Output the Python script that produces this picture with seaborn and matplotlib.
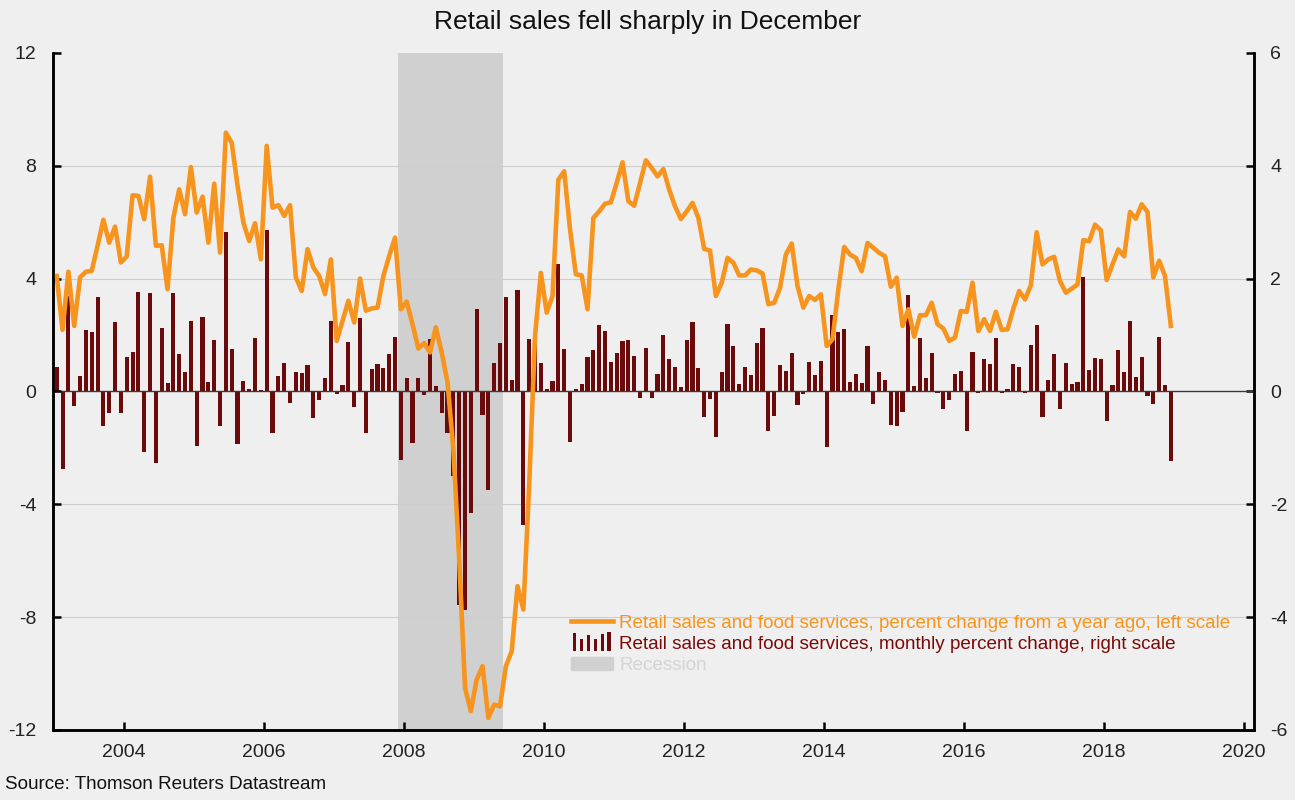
import numpy as np
import pandas as pd
import matplotlib as mpl
import matplotlib.pyplot as plt
from matplotlib.patches import Rectangle
from matplotlib.lines import Line2D
from matplotlib.legend_handler import HandlerBase
import seaborn as sns

plt.rcParams['font.family'] = ['Liberation Sans', 'DejaVu Sans']
mpl.rcParams['axes.unicode_minus'] = False

# monthly data, Jan 2003 .. Dec 2018
START_YEAR = 2003
RECESSION = (2007.917, 2009.417)

# percent change from a year ago (left scale)
yoy = [
    4.09, 2.18, 4.24, 2.32, 4.04, 4.24, 4.27, 5.16, 6.08, 5.27, 5.84, 4.57,
    4.78, 6.95, 6.93, 6.10, 7.61, 5.16, 5.18, 3.62, 6.16, 7.16, 6.28, 7.95,
    6.34, 6.90, 5.27, 7.36, 4.92, 9.17, 8.81, 7.30, 5.98, 5.33, 5.96, 4.68,
    8.70, 6.51, 6.60, 6.22, 6.60, 4.04, 3.56, 5.04, 4.39, 4.09, 3.45, 4.68,
    1.79, 2.50, 3.21, 2.44, 4.00, 2.86, 2.94, 2.97, 4.09, 4.80, 5.45, 2.91,
    3.18, 2.38, 1.52, 1.71, 1.38, 2.27, 1.38, 0.32, -2.06, -5.96, -10.51, -11.33,
    -10.21, -9.74, -11.57, -11.10, -11.16, -9.74, -9.21, -6.90, -7.73, -3.30, 1.97, 4.20,
    2.79, 3.38, 7.50, 7.80, 5.74, 4.15, 4.11, 2.91, 6.15, 6.38, 6.65, 6.70,
    7.39, 8.12, 6.74, 6.58, 7.39, 8.19, 7.92, 7.62, 7.88, 7.15, 6.56, 6.11,
    6.38, 6.68, 6.15, 5.05, 4.99, 3.38, 3.85, 4.73, 4.56, 4.11, 4.11, 4.32,
    4.29, 4.18, 3.09, 3.14, 3.67, 4.85, 5.24, 3.73, 2.97, 3.38, 3.24, 3.44,
    1.61, 1.85, 3.62, 5.12, 4.85, 4.73, 4.26, 5.26, 5.09, 4.91, 4.79, 3.71,
    4.03, 2.32, 2.91, 1.94, 2.70, 2.70, 3.14, 2.38, 2.23, 1.79, 1.91, 2.85,
    2.82, 3.85, 2.14, 2.56, 2.14, 2.82, 2.18, 2.20, 2.93, 3.56, 3.26, 3.76,
    5.64, 4.50, 4.68, 4.77, 3.91, 3.50, 3.64, 3.79, 5.36, 5.32, 5.91, 5.71,
    3.95, 4.50, 5.03, 4.79, 6.36, 6.12, 6.63, 6.36, 4.04, 4.63, 4.09, 2.32,
]

# monthly percent change (right scale)
mom = [
    0.44, -1.37, 1.69, -0.25, 0.27, 1.09, 1.05, 1.67, -0.61, -0.38, 1.23, -0.38,
    0.61, 0.70, 1.77, -1.08, 1.74, -1.26, 1.13, 0.14, 1.75, 0.67, 0.34, 1.24,
    -0.96, 1.31, 0.16, 0.91, -0.62, 2.83, 0.75, -0.93, 0.19, 0.04, 0.94, 0.03,
    2.86, -0.74, 0.27, 0.50, -0.20, 0.34, 0.32, 0.46, -0.48, -0.15, 0.24, 1.24,
    -0.04, 0.11, 0.87, -0.27, 1.30, -0.74, 0.40, 0.48, 0.41, 0.66, 0.96, -1.21,
    0.24, -0.91, 0.24, -0.07, 0.93, 0.10, -0.38, -0.73, -1.50, -3.78, -3.88, -2.15,
    1.46, -0.42, -1.75, 0.50, 0.86, 1.68, 0.20, 1.80, -2.37, 0.93, 0.90, 0.50,
    0.04, 0.18, 2.25, 0.75, -0.90, 0.04, 0.13, 0.61, 0.73, 1.17, 1.07, 0.52,
    0.68, 0.89, 0.91, 0.62, -0.12, 0.77, -0.11, 0.31, 1.00, 0.57, 0.43, 0.08,
    0.91, 1.23, 0.41, -0.46, -0.14, -0.80, 0.34, 1.19, 0.80, 0.13, 0.44, 0.29,
    0.85, 1.13, -0.70, -0.43, 0.47, 0.36, 0.68, -0.24, -0.05, 0.52, 0.29, 0.54,
    -0.99, 1.35, 1.06, 1.10, 0.17, 0.31, 0.15, 0.80, -0.22, 0.34, 0.20, -0.59,
    -0.62, -0.36, 1.70, 0.09, 0.94, 0.24, 0.68, -0.02, -0.32, -0.15, 0.31, 0.36,
    -0.70, 0.70, -0.02, 0.57, 0.48, 0.94, -0.02, 0.04, 0.48, 0.43, -0.02, 0.82,
    1.17, -0.46, 0.20, 0.66, -0.31, 0.50, 0.13, 0.17, 2.02, 0.38, 0.59, 0.57,
    -0.52, 0.11, 0.73, 0.34, 1.24, 0.25, 0.61, -0.08, -0.22, 0.96, 0.11, -1.24,
]

LEFT_TICKS = [-12, -8, -4, 0, 4, 8, 12]
RIGHT_TICKS = [-6, -4, -2, 0, 2, 4, 6]
X_TICKS = [2004, 2006, 2008, 2010, 2012, 2014, 2016, 2018, 2020]

LINE_LABEL = 'Retail sales and food services, percent change from a year ago, left scale'
BAR_LABEL = 'Retail sales and food services, monthly percent change, right scale'

BG = '#efefef'
ORANGE = '#f7941d'
MAROON = '#6b0a0a'
REC_GREY = '#d0d0d0'


class BarsHandler(HandlerBase):
    # little "lılıl" icon for the bar series
    def create_artists(self, legend, orig_handle, xdescent, ydescent,
                       width, height, fontsize, trans):
        hs = [0.95, 0.6, 0.85, 0.65, 0.9, 1.0]
        step = width / len(hs)
        arts = []
        for k, h in enumerate(hs):
            r = Rectangle((-xdescent + k * step + step * 0.25, -ydescent - height * 0.15),
                          step * 0.5, height * 1.45 * h,
                          facecolor=MAROON, edgecolor='none', transform=trans)
            arts.append(r)
        return arts


df = pd.DataFrame({'yoy': yoy, 'mom': mom})
df['t'] = START_YEAR + (np.arange(len(df)) + 0.5) / 12

fig = plt.figure(figsize=(12.95, 8), dpi=100, facecolor=BG)
ax = fig.add_axes([0.041, 0.0875, 0.927, 0.8465], facecolor=BG)
ax2 = ax.twinx()

# bars + recession on the bottom axes (right scale)
ax.axvspan(*RECESSION, color=REC_GREY, zorder=0, lw=0)
for v in RIGHT_TICKS:
    if v not in (0, 6, -6):
        ax.axhline(v, color='#cdcdcd', lw=0.8, zorder=0.5)
sns.barplot(data=df, x='t', y='mom', native_scale=True, width=0.7,
            color=MAROON, saturation=1, errorbar=None, ax=ax, zorder=2)
ax.axhline(0, color='#3a3a3a', lw=1.0, zorder=3)

# line on the twin axes (left scale)
sns.lineplot(data=df, x='t', y='yoy', color=ORANGE, linewidth=3.3, ax=ax2)

ax.set_xlim(2002.99, 2020.14)
ax.set_ylim(-6, 6)
ax2.set_ylim(-12, 12)
ax.set_xticks(X_TICKS)
ax.set_xticklabels([str(x) for x in X_TICKS])
ax.set_yticks(RIGHT_TICKS)
ax2.set_yticks(LEFT_TICKS)
ax.yaxis.tick_right()
ax2.yaxis.tick_left()
for a in (ax, ax2):
    a.set_xlabel('')
    a.set_ylabel('')
    a.spines['top'].set_visible(False)
    for s in ('left', 'right', 'bottom'):
        a.spines[s].set_color('black')
        a.spines[s].set_linewidth(1.8)
    a.tick_params(direction='in', length=6, width=1.8, labelsize=14,
                  labelcolor='#222222', color='black')
ax.tick_params(axis='x', pad=10)
ax.tick_params(axis='y', pad=12)
ax2.tick_params(axis='y', pad=12)

handles = [Line2D([], [], color=ORANGE, lw=3.3),
           Rectangle((0, 0), 1, 1, color=MAROON),
           Rectangle((0, 0), 1, 1, color=REC_GREY)]
labels = [LINE_LABEL, BAR_LABEL, 'Recession']
leg = ax2.legend(handles, labels, loc='upper left',
                 bbox_to_anchor=(0.441, 0.232), bbox_transform=fig.transFigure,
                 frameon=False, fontsize=13.6, handlelength=2.2,
                 handletextpad=0.35, labelspacing=0.22, borderpad=0,
                 borderaxespad=0,
                 handler_map={handles[1]: BarsHandler()})
for txt, c in zip(leg.get_texts(), [ORANGE, '#7a0a0a', '#d4d4d4']):
    txt.set_color(c)

fig.text(0.5, 0.973, 'Retail sales fell sharply in December', ha='center',
         va='center', fontsize=19, color='#111111')
fig.text(0.004, 0.019, 'Source: Thomson Reuters Datastream', ha='left',
         va='center', fontsize=13.6, color='#111111')

fig.savefig('out.png', dpi=100, facecolor=BG)
